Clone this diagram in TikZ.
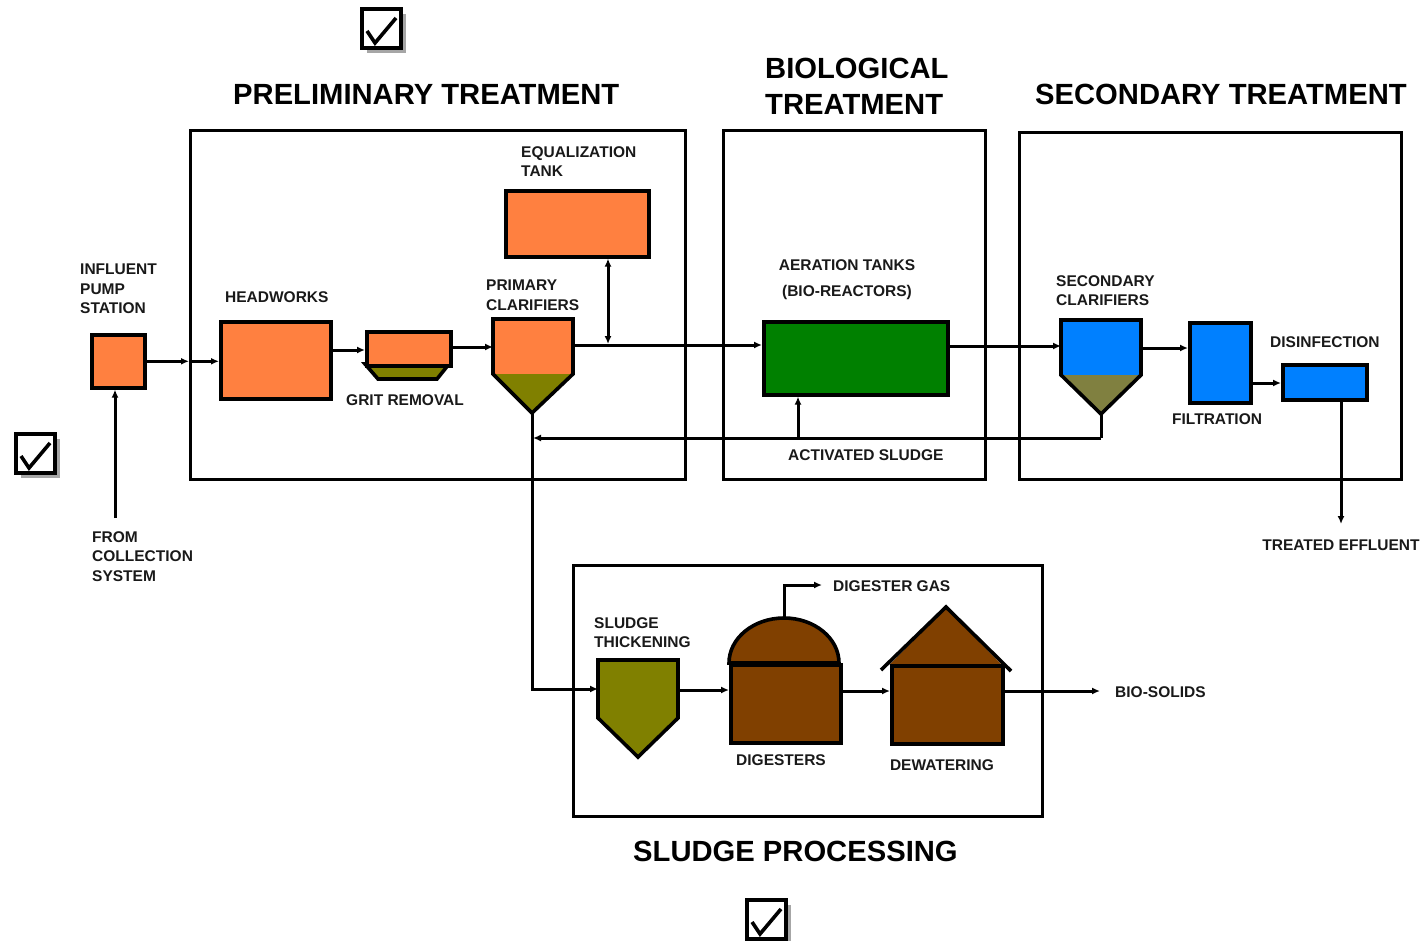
\documentclass[tikz,border=0pt]{standalone}
\usepackage{fontspec}
\setmainfont{Liberation Sans}
\usetikzlibrary{arrows.meta}
\definecolor{orng}{HTML}{FF8040}
\definecolor{oliv}{HTML}{808000}
\definecolor{olivg}{HTML}{808040}
\definecolor{grn}{HTML}{008000}
\definecolor{blu}{HTML}{0080FF}
\definecolor{brwn}{HTML}{804000}
\begin{document}
\begin{tikzpicture}[x=1pt,y=-1pt,
  frame/.style={draw=black, line width=3pt, inner sep=0pt, anchor=north west},
  unit/.style={draw=black, line width=3.6pt, inner sep=0pt, anchor=north west},
  shp/.style={draw=black, line width=3.6pt, line join=miter},
  lbl/.style={font=\fontsize{15.5}{19.5}\selectfont\bfseries, text=black!90, inner sep=0pt, align=left, anchor=north west},
  ttl/.style={font=\fontsize{29.2}{36}\selectfont\bfseries, inner sep=0pt, align=left, anchor=north west},
  flow/.style={line width=3pt, -{Latex[length=8pt,width=7pt]}},
  flow2/.style={line width=3pt, {Latex[length=8pt,width=7pt]}-{Latex[length=8pt,width=7pt]}},
  pipe/.style={line width=3pt},
  chkbox/.pic={
    \fill[gray!70] (5,5) rectangle (44,44);
    \draw[line width=3.4pt, fill=white] (0,0) rectangle (39,39);
    \draw[line width=3.6pt] (5,22) -- (13,34) -- (34,9);
  }
]
\useasboundingbox (0,0) rectangle (1424,941);

% check boxes
\pic at (362,9) {chkbox};
\pic at (16,434) {chkbox};
\pic at (747,900) {chkbox};

% titles
\node[ttl] (tprelim) at (233,84) {PRELIMINARY TREATMENT};
\node[ttl] (tbio) at (765,58) {BIOLOGICAL\\TREATMENT};
\node[ttl] (tsec) at (1035,84) {SECONDARY TREATMENT};
\node[ttl] (tsludge) at (633,841) {SLUDGE PROCESSING};

% section frames
\node[frame, minimum width=495pt, minimum height=349pt] (prelim) at (189,129) {};
\node[frame, minimum width=262pt, minimum height=349pt] (bio) at (722,129) {};
\node[frame, minimum width=382pt, minimum height=347pt] (sec) at (1018,131) {};
\node[frame, minimum width=469pt, minimum height=251pt] (sludge) at (572,564) {};

% units
\node[unit, fill=orng, minimum width=53pt, minimum height=53pt] (pump) at (90,333) {};
\node[unit, fill=orng, minimum width=110pt, minimum height=77pt] (hw) at (219,320) {};
\node[unit, fill=orng, minimum width=143pt, minimum height=66pt] (eq) at (504,189) {};
\node[unit, fill=grn, minimum width=184pt, minimum height=73pt] (aer) at (762,320) {};
\node[unit, fill=blu, minimum width=61pt, minimum height=80pt] (filt) at (1188,321) {};
\node[unit, fill=blu, minimum width=84pt, minimum height=35pt] (dis) at (1281,363) {};

% grit removal
\fill[oliv] (365,364) -- (449,364) -- (437,379) -- (378,379) -- cycle;
\draw[shp] (365,364) -- (449,364) -- (437,379) -- (378,379) -- cycle;
\node[unit, fill=orng, minimum width=84pt, minimum height=34pt] (grit) at (365,330) {};

% primary clarifier
\coordinate (pcapex) at (532,413);
\fill[orng] (493,319) rectangle (573,374);
\fill[oliv] (493,374) -- (573,374) -- (pcapex) -- cycle;
\draw[shp] (493,319) -- (573,319) -- (573,374) -- (pcapex) -- (493,374) -- cycle;
\coordinate (pcin) at (493,347);
\coordinate (pcout) at (573,345);

% secondary clarifier
\coordinate (scapex) at (1101,414);
\fill[blu] (1061,320) rectangle (1141,375);
\fill[olivg] (1061,375) -- (1141,375) -- (scapex) -- cycle;
\draw[shp] (1061,320) -- (1141,320) -- (1141,375) -- (scapex) -- (1061,375) -- cycle;
\coordinate (scin) at (1061,346);
\coordinate (scout) at (1141,348);

% sludge thickening
\coordinate (thin) at (598,689);
\coordinate (thout) at (678,690);
\draw[shp, fill=oliv] (598,660) -- (678,660) -- (678,718) -- (638,757) -- (598,718) -- cycle;

% digesters
\draw[shp, fill=brwn] (729,663) arc[start angle=180, end angle=0, x radius=55pt, y radius=45pt] -- cycle;
\node[unit, fill=brwn, minimum width=110pt, minimum height=78pt] (dig) at (729,663) {};
\coordinate (domtop) at (784,618);

% dewatering
\fill[brwn] (890,664) -- (946,608) -- (1001,664) -- cycle;
\node[unit, fill=brwn, minimum width=111pt, minimum height=78pt] (dew) at (890,664) {};
\draw[shp] (881,670) -- (946,607) -- (1011,671);

% labels
\node[lbl] (lpump) at (80,264) {INFLUENT\\PUMP\\STATION};
\node[lbl] (lcoll) at (92,531) {FROM\\COLLECTION\\SYSTEM};
\node[lbl] (lhw) at (225,291) {HEADWORKS};
\node[lbl] (lgrit) at (346,394) {GRIT REMOVAL};
\node[lbl] (lpc) at (486,280) {PRIMARY\\CLARIFIERS};
\node[lbl] (leq) at (521,146) {EQUALIZATION\\TANK};
\node[lbl, align=center, anchor=north, font=\fontsize{15.5}{26}\selectfont\bfseries] (laer) at (847,259) {AERATION TANKS\\(BIO-REACTORS)};
\node[lbl] (lact) at (788,449) {ACTIVATED SLUDGE};
\node[lbl] (lsc) at (1056,275) {SECONDARY\\CLARIFIERS};
\node[lbl] (ldis) at (1270,336) {DISINFECTION};
\node[lbl] (lfilt) at (1172,413) {FILTRATION};
\node[lbl, anchor=north] (leff) at (1341,540) {TREATED EFFLUENT};
\node[lbl] (lgas) at (833,580) {DIGESTER GAS};
\node[lbl] (lth) at (594,617) {SLUDGE\\THICKENING};
\node[lbl, anchor=north] (ldig) at (781,754) {DIGESTERS};
\node[lbl, anchor=north] (ldew) at (942,759) {DEWATERING};
\node[lbl] (lbio) at (1115,686) {BIO-SOLIDS};

% free ends
\coordinate (collsrc) at (115,518);
\coordinate (effout) at (1341,524);
\coordinate (biosol) at (1100,691);
\coordinate (gasout) at (822,585);
\coordinate (retcorner) at (1101,438);
\coordinate (retend) at (533,438);
\coordinate (retup) at (798,438);

% connectors
\draw[flow] (pump.east) -- (pump.east -| prelim.west);
\draw[flow] (pump.east -| prelim.west) -- (pump.east -| hw.west);
\draw[flow] (collsrc) -- (collsrc |- pump.south);
\draw[flow] (hw.east |- 0,350) -- (grit.west |- 0,350);
\draw[flow] (grit.east |- pcin) -- (pcin);
\draw[flow] (pcout) -- (aer.west |- pcout);
\draw[flow2] (eq.south -| 608,0) -- (608,344);
\draw[flow] (aer.east |- scin) -- (scin);
\draw[flow] (scout) -- (filt.west |- scout);
\draw[flow] (filt.east |- 0,383) -- (dis.west |- 0,383);
\draw[flow] (dis.south -| effout) -- (effout);
\draw[pipe] (scapex) -- (retcorner);
\draw[flow] (retcorner) -- (retend);
\draw[flow] (retup) -- (retup |- aer.south);
\draw[flow] (pcapex) -- (pcapex |- thin) -- (thin);
\draw[flow] (thout) -- (dig.west |- thout);
\draw[flow] (dig.east |- 0,691) -- (dew.west |- 0,691);
\draw[flow] (dew.east |- biosol) -- (biosol);
\draw[flow] (domtop) -- (domtop |- gasout) -- (gasout);
\end{tikzpicture}
\end{document}
